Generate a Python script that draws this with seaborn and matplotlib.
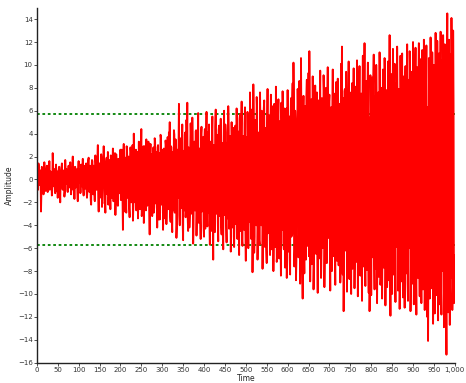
import numpy as np
import pandas as pd
import matplotlib
matplotlib.use("Agg")
import matplotlib.pyplot as plt
import seaborn as sns
from matplotlib.ticker import FuncFormatter

# Signal values: samples at even times (0, 2, 4, ...)
amplitude_even = [
    0.3, -0.9, 1.4, -0.5, 0.8, -2.8, 1.1, -0.2, -1.3, 1.5, 0.4, -0.7, 1.2, -1.1, 0.1, 1.6, -0.8, 0.6, -1.4, 2.3,
    -0.6, 0.9, -1.2, 1.3, -0.3, -1.6, 0.7, 1.1, -2.0, 0.5, 1.4, -0.9, 0.2, -1.5, 1.7, -0.4, 0.8, -1.1, 1.2, -0.7,
    1.5, -1.3, 0.4, 2.0, -0.9, -1.7, 1.1, -0.3, 0.9, -1.9, 1.6, 0.2, -1.2, 1.3, -0.6, 1.8, -1.4, 0.5, -0.8, 1.4,
    -1.6, 0.7, 1.9, -1.1, 0.3, -2.2, 1.7, -0.5, 1.2, -1.8, 2.1, -0.9, 0.6, 3.0, -2.8, 1.4, -1.0, 2.2, -2.4, 0.8,
    2.9, -2.1, -2.9, 1.6, -0.7, 2.4, -1.5, 0.9, -2.6, 1.8, -0.4, 2.7, -1.9, 1.1, -3.1, 2.2, 0.5, -2.3, 1.4, -1.2,
    2.6, -1.8, 1.3, -4.4, 3.1, -0.6, 1.9, -2.9, 2.4, -1.2, 0.8, -3.3, 2.8, -2.0, 1.5, -3.6, 4.0, -1.1, 2.1, -2.7,
    1.2, -3.4, 3.3, -1.9, 2.2, 4.4, -2.6, 0.9, -3.8, 2.9, -1.4, 3.5, -2.3, 1.7, 2.5, -4.8, 3.1, -0.8, -3.2, 1.6,
    -2.9, 3.6, -1.5, 2.4, -4.2, 3.0, -0.7, -3.5, 3.9, -2.2, 1.3, -4.4, 2.7, -1.8, 3.4, -3.9, 1.9, -2.5, 4.1, 5.0,
    -3.7, 2.8, -4.6, 1.4, 4.3, -2.9, 3.5, -5.1, 2.2, -1.6, 6.6, -4.0, 3.1, -2.4, 4.8, -5.3, 1.8, 3.9, -3.3, 5.2,
    6.7, -4.5, 2.6, -3.1, 4.9, -1.9, 5.4, -5.6, 3.0, -2.7, 4.2, -4.9, 1.6, 5.8, -3.8, 2.4, -5.2, 4.6, -1.3, 3.7,
    -5.0, 4.4, -2.8, 5.9, -4.1, 1.9, 4.8, -5.7, 3.3, -3.6, 5.5, -7.0, 2.7, -4.6, 6.1, -2.1, 3.9, -5.4, 4.7, -3.2,
    5.3, -4.8, 2.2, -6.1, 6.0, -3.0, 4.1, -5.5, 1.7, 6.4, -4.3, 3.6, -6.3, 5.0, -2.5, 4.5, -5.9, 2.9, -3.9, 6.2,
    -5.2, 4.0, -6.6, 5.7, -2.9, 6.8, -5.8, 3.4, -4.4, 6.3, -7.1, 2.6, 5.9, -6.0, 4.7, 7.6, -3.8, 6.1, -8.1, 8.3,
    -6.4, 5.2, -3.5, 7.2, -7.0, 4.1, -5.3, 7.6, -2.8, 6.0, -7.8, 3.3, 6.9, -5.9, 4.5, -7.3, 7.9, -4.2, 5.6, -6.6,
    7.4, -6.1, 3.8, -8.0, 6.6, -4.6, 8.1, -7.2, 2.9, 7.0, -6.9, 5.1, -8.4, 4.4, 7.7, -5.5, 6.2, -7.7, 3.6, -8.6,
    7.8, -6.3, 5.5, -8.3, 7.1, -4.9, 8.4, 10.2, -7.6, 6.0, -8.8, 4.7, 7.9, -6.8, 8.6, -9.1, 10.6, -5.7, -10.4, 7.3,
    -8.2, 6.4, -7.0, 8.7, -5.8, 9.3, 11.2, -8.9, 5.9, -7.4, 9.0, -9.6, 4.8, 8.2, -6.5, 7.6, -9.9, 6.9, -4.6, 9.5,
    -8.6, 7.1, -6.0, 9.1, -9.4, 5.4, 8.0, -7.3, 9.8, -5.1, 7.4, -9.7, 6.3, -8.0, 9.6, -6.7, 4.9, -9.2, 8.5, -7.1,
    8.8, -7.5, 6.6, -9.0, 10.1, 11.6, -8.3, -11.5, 7.7, -6.2, 9.4, -9.8, 5.6, 10.3, -8.7, 7.0, -10.0, 8.4, -6.9, 9.7,
    -9.5, 8.1, -7.2, 10.4, -10.2, 6.3, 9.9, -8.4, 7.5, -10.6, 10.8, -6.6, 11.9, -9.3, 8.6, -7.9, 10.2, -9.9, -11.5, 9.1,
    -10.1, 8.9, -6.8, 10.9, -9.6, 7.3, 10.0, -10.8, 6.9, -8.5, 11.1, -9.2, 8.0, -10.4, 9.6, -7.7, 10.6, -11.0, 7.8, -9.4,
    10.3, -8.8, 12.6, -11.9, 9.2, -10.0, 11.4, -7.6, 10.1, -10.7, 8.4, 11.6, -9.7, 7.9, -11.3, 10.8, -8.9, 11.0, -10.3, 9.0,
    -11.2, 9.9, -8.2, 11.8, -10.6, 8.7, 11.2, -11.5, 9.4, -9.1, 12.0, -10.9, 7.8, 11.5, -11.8, 9.8, -8.6, 11.9, -10.2, 10.5,
    -10.8, 11.3, -9.6, 12.2, -11.4, 9.5, 11.7, -12.0, -14.1, 10.6, -10.4, 12.4, -9.0, 11.1, -12.6, 10.0, -11.7, 12.8, -10.1, 12.1,
    -12.3, 11.0, -10.9, 12.9, -11.8, 10.4, 12.6, -12.9, 11.8, -10.5, -15.3, 14.5, -11.6, 12.2, -12.7, 10.9, 14.1, -11.4, 13.0, -10.8,
]
# Samples at odd times (1, 3, 5, ...)
amplitude_odd = [
    0.4, -0.9, 1.0, -0.3, 0.7, -1.1, 0.5, 0.9, -0.6, 0.2, -1.0, 0.8, -0.4, 1.2, -0.5, -0.9, 0.7, 0.1, -0.8, 1.1,
    -0.5, 0.9, 0.3, -1.0, 0.7, -0.4, 1.1, -0.8, 0.4, 1.0, -0.7, -0.2, 0.8, -1.1, 0.5, 0.9, -0.9, 0.4, -0.6, 0.8,
    0.7, -0.4, 1.0, -0.9, 0.3, 1.1, -0.7, 0.6, -1.0, 0.8, -0.3, 0.9, -1.1, 0.4, 0.7, -0.8, 1.2, -0.5, 0.3, -0.9,
    -1.0, 1.7, -0.8, 1.2, -1.8, 0.9, 1.6, -1.3, 1.0, -1.9, 1.4, -0.9, 1.8, -1.2, 1.1, -1.6, 1.3, 1.9, -1.0, 1.5,
    1.4, -2.0, 1.1, 1.9, -1.3, -2.2, 1.7, -1.0, 2.1, -1.6, 1.2, -1.9, 1.5, 2.3, -1.4, 1.0, -2.1, 1.8, -1.2, 1.9,
    -1.8, 2.6, -1.6, 2.2, -2.8, 1.7, -2.1, 2.9, -1.6, 2.0, -2.5, 1.8, 2.4, -1.9, 3.0, -2.3, 1.7, -2.0, 2.6, -1.7,
    2.4, -1.9, 3.1, -2.6, 1.9, -3.2, 2.2, 2.9, -2.0, 1.9, -2.7, 2.4, -1.8, 3.3, -2.4, 2.0, -3.0, 2.2, -1.9, 2.8,
    -2.4, 3.3, -2.1, 2.2, 2.8, -3.5, 2.3, -2.9, 3.6, -2.1, 2.6, -2.4, 2.2, -3.4, 3.0, -2.2, 3.7, -2.6, 2.1, -3.1,
    2.9, -3.7, 2.4, -2.7, 3.9, -2.5, 3.3, -4.0, 2.6, 2.4, -3.1, 3.6, -2.5, 2.8, -3.8, 2.5, -2.7, 4.1, -2.4, 3.2,
    -3.4, 2.8, -4.2, 2.7, 3.7, -3.0, 2.6, -3.9, 3.3, -2.7, 4.3, -2.6, 3.1, -3.7, 2.7, -3.4, 4.0, -2.8, 3.0, -4.1,
    3.4, -4.3, 2.9, -3.2, 4.1, -2.9, -3.6, 3.1, -4.5, 3.8, -2.9, 3.0, -4.0, 4.6, -3.0, 3.2, -3.7, 4.3, -3.0, 3.3,
    -3.9, 3.2, -4.7, 3.6, -3.1, 4.8, -3.8, 3.2, -3.4, 4.3, -3.1, 3.8, -5.0, 3.1, -4.2, 3.5, -3.2, 4.7, -3.6, 3.3,
    4.2, -3.6, 5.3, -4.5, 3.6, -5.4, 3.8, -3.5, 4.9, -4.0, 3.7, -4.8, 3.5, 5.6, -3.7, 4.4, -5.2, 3.6, -4.2, 5.0,
    -5.0, 4.1, -4.0, 6.0, -4.4, 4.0, -5.7, 4.7, -4.0, 5.3, -4.1, 6.2, -4.0, 4.4, -6.1, 3.9, -4.7, 5.6, -4.1, 4.5,
    5.0, -4.3, 6.4, -4.4, 4.8, -5.9, 4.3, -6.5, 5.4, -4.2, 4.5, -5.2, 6.7, -4.4, 4.6, -6.1, 4.3, -4.5, 6.2, -4.8,
    -5.4, 4.8, -6.9, 4.8, -5.0, 6.6, -4.7, 5.4, -6.2, 4.7, -7.1, 4.8, 6.0, -4.8, 6.8, -5.1, 4.8, -6.4, 5.0, -4.9,
    5.8, -4.9, 7.3, -5.6, 5.0, -6.7, 4.9, -5.0, 7.0, -5.3, 5.1, -7.4, 5.5, -5.1, 6.4, -4.9, 5.9, -6.9, 5.1, -5.2,
    -6.3, 5.3, -5.1, 7.6, -5.8, 5.1, -7.3, 6.1, -5.1, 6.7, -5.1, 5.2, -7.0, 5.1, -5.5, 7.5, -5.0, 5.2, -6.6, 5.8,
    6.4, -5.5, 5.3, -7.7, 5.9, -5.2, 7.1, -5.1, 7.9, -6.2, 5.2, -6.9, 5.4, -5.2, 7.6, -5.8, 5.2, -7.8, 5.2, -5.3,
    -7.0, 5.6, -5.4, 8.0, -6.1, 5.5, -7.9, 6.6, -5.4, 5.9, -7.6, 5.5, -5.3, 7.8, -5.5, 6.9, -5.9, 5.4, -8.2, 6.2,
    7.2, -5.7, 8.3, -6.5, 5.8, -7.8, 5.9, -5.6, 7.6, -5.7, 5.6, -8.5, 6.4, -5.6, 5.7, -7.3, 8.1, -5.7, 6.1, -6.9,
    -7.6, 6.0, -5.8, 8.7, -6.8, 5.9, -8.3, 7.0, -5.8, 8.0, -5.9, 6.3, -8.9, 5.9, -7.2, 5.9, 8.6, -6.0, 7.5, -5.9,
    7.8, -6.6, 6.1, -9.0, 6.2, -6.0, 8.6, -7.5, 6.1, -6.0, 9.2, -6.1, 7.2, -8.3, 6.0, -6.3, 8.1, -6.1, 6.8, -8.7,
    -8.1, 6.4, -7.0, 9.4, -6.3, 7.6, -9.2, 6.3, -6.5, 8.8, -6.3, 6.9, -9.5, 6.4, -6.4, 9.0, -7.3, 6.3, -8.4, 6.6,
    8.9, -6.6, 7.2, -9.7, 6.6, -8.0, 9.4, -6.8, 6.6, -9.1, 7.5, -6.6, 9.8, -7.0, 6.6, -8.6, 6.6, -9.4, 6.6, -6.6,
]
threshold_levels = [5.75, -5.75]

x_ticks = list(range(0, 1001, 50))
y_ticks = list(range(-16, 15, 2))

df = pd.concat([
    pd.DataFrame({"Time": np.arange(len(amplitude_even)) * 2, "Amplitude": amplitude_even}),
    pd.DataFrame({"Time": np.arange(len(amplitude_odd)) * 2 + 1, "Amplitude": amplitude_odd}),
]).sort_values("Time").reset_index(drop=True)

sns.set_style("ticks")
plt.rcParams["font.family"] = ["DejaVu Sans"]

fig = plt.figure(figsize=(4.66, 3.83), dpi=100)
ax = fig.add_axes([0.079, 0.053, 0.897, 0.927])

for lvl in threshold_levels:
    ax.axhline(lvl, color="#008000", linestyle=(0, (1.5, 1.5)), lw=1.3, zorder=1)

sns.lineplot(data=df, x="Time", y="Amplitude", color="#ff0000", lw=1.35,
             estimator=None, sort=False, ax=ax, zorder=2)

ax.set_xlim(0, 1000)
ax.set_ylim(-16, 15)
ax.set_xticks(x_ticks)
ax.set_yticks(y_ticks)
ax.xaxis.set_major_formatter(FuncFormatter(lambda v, p: f"{int(v):,}"))
ax.yaxis.set_major_formatter(FuncFormatter(lambda v, p: f"{int(v)}".replace("-", "\u2212")))
ax.tick_params(axis="both", labelsize=5, length=2, width=0.6, colors="#333333", pad=1.0)
for s in ["left", "bottom"]:
    ax.spines[s].set_color("#222222")
    ax.spines[s].set_linewidth(1.0)
sns.despine(ax=ax)
ax.set_xlabel("Time", fontsize=5.5, labelpad=1)
ax.set_ylabel("Amplitude", fontsize=5.5, labelpad=3)

fig.savefig("out.png", dpi=100)
